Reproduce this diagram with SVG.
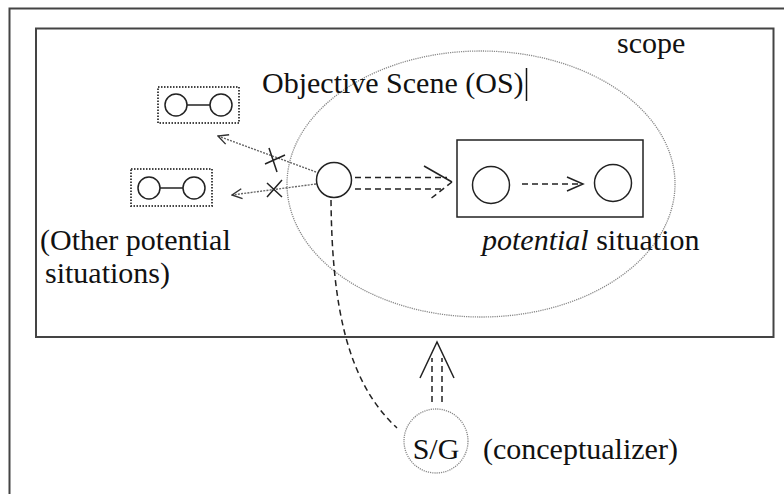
<svg xmlns="http://www.w3.org/2000/svg" width="784" height="494" viewBox="0 0 784 494">
  <style>
    .lbl { font-family: 'Liberation Serif', 'Times New Roman', 'DejaVu Serif', serif; font-size: 30px; fill: #111; }
    .frame { fill: none; stroke: #444; stroke-width: 2; }
    .solid { fill: none; stroke: #222; stroke-width: 1.5; }
    .dash { fill: none; stroke: #222; stroke-width: 1.5; stroke-dasharray: 6 4; }
    .dot { fill: none; stroke: #444; stroke-width: 2; stroke-dasharray: 1.5 1.5; }
    .fine { fill: none; stroke: #888; stroke-width: 1.3; stroke-dasharray: 1.2 1; }
    .ray { fill: none; stroke: #666; stroke-width: 1.4; stroke-dasharray: 2 1.2; }
  </style>
  <defs>
    <marker id="open" viewBox="0 0 12 12" refX="11" refY="6" markerWidth="12" markerHeight="12" markerUnits="userSpaceOnUse" orient="auto">
      <path d="M1,1 L11,6 L1,11" fill="none" stroke="#333" stroke-width="1.4"/>
    </marker>
  </defs>

  <rect width="784" height="494" fill="#fff"/>
  <!-- page border -->
  <path class="frame" d="M9.5,494 V8.5 H784"/>

  <g id="scope">
    <rect class="frame" x="36" y="28.5" width="737.5" height="308.5"/>
    <text class="lbl" x="617" y="53" font-family="'Liberation Serif', serif">scope</text>
  </g>

  <g id="objective-scene">
    <ellipse class="fine" cx="481" cy="184" rx="194" ry="133"/>
    <text class="lbl" x="262" y="93" font-family="'Liberation Serif', serif">Objective Scene (OS)</text>
    <line x1="526.5" y1="68" x2="526.5" y2="101" stroke="#111" stroke-width="1.5"/>
  </g>

  <g id="focus">
    <circle class="solid" cx="334" cy="180" r="17.5"/>
  </g>

  <g id="potential-situation">
    <rect class="solid" x="457" y="140" width="186" height="77"/>
    <circle class="solid" cx="491" cy="185" r="18.5"/>
    <circle class="solid" cx="613" cy="183" r="18.5"/>
    <text class="lbl" x="482" y="250" font-family="'Liberation Serif', serif"><tspan font-style="italic">potential</tspan> situation</text>
  </g>

  <g id="other-situation-1">
    <rect class="dot" x="158" y="87" width="81" height="36"/>
    <circle class="solid" cx="176" cy="105" r="11"/>
    <circle class="solid" cx="221" cy="105" r="11"/>
    <line class="solid" x1="187" y1="105" x2="210" y2="105"/>
  </g>

  <g id="other-situation-2">
    <rect class="dot" x="131" y="169" width="81" height="37"/>
    <circle class="solid" cx="149" cy="188" r="11"/>
    <circle class="solid" cx="194" cy="188" r="11"/>
    <line class="solid" x1="160" y1="188" x2="183" y2="188"/>
  </g>

  <g id="other-label">
    <text class="lbl" x="40" y="250" font-family="'Liberation Serif', serif">(Other potential</text>
    <text class="lbl" x="45" y="283" font-family="'Liberation Serif', serif">situations)</text>
  </g>

  <g id="conceptualizer">
    <circle class="fine" cx="436" cy="441" r="32"/>
    <text class="lbl" x="436" y="459" text-anchor="middle" font-family="'Liberation Serif', serif">S/G</text>
    <text class="lbl" x="483" y="459" font-family="'Liberation Serif', serif">(conceptualizer)</text>
  </g>

  <g id="connectors">
    <!-- blocked alternatives -->
    <line class="ray" x1="316" y1="172" x2="218" y2="136" marker-end="url(#open)"/>
    <line class="ray" x1="316" y1="184" x2="232" y2="195" marker-end="url(#open)"/>
    <path class="solid" d="M269,148 L277,172 M265,164 L285,155"/>
    <path class="solid" d="M267,183 L282,197 M267,197 L282,180"/>

    <!-- double arrow into the potential situation -->
    <line class="dash" x1="355" y1="177.5" x2="447" y2="177.5"/>
    <line class="dash" x1="355" y1="189" x2="442" y2="189"/>
    <path class="solid" d="M424,166 L452,182"/>
    <path class="dash" d="M452,182 L429,200" stroke-dasharray="5 3"/>

    <!-- inner transition -->
    <line class="dash" x1="522" y1="184" x2="582" y2="184"/>
    <path class="solid" d="M567,177 L583,184 L567,191"/>

    <!-- link from the focus to the conceptualizer -->
    <path class="dash" d="M331,200 C332,300 345,380 397,428"/>

    <!-- double arrow from the conceptualizer up to the scope -->
    <line class="dash" x1="432" y1="402" x2="432" y2="358"/>
    <line class="dash" x1="442" y1="402" x2="442" y2="358"/>
    <path class="solid" d="M420,378 L437,342 L454,378"/>
  </g>
</svg>
